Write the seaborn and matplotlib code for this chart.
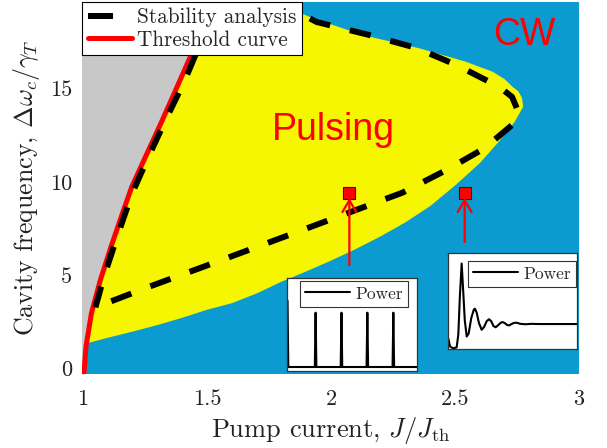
import matplotlib
matplotlib.use("Agg")
import matplotlib.pyplot as plt
import matplotlib.ticker as mticker
import numpy as np
import seaborn as sns

# Lasing threshold curve: pump current J/Jth vs cavity detuning
thr_J = [1.002, 1.004, 1.012, 1.034, 1.070, 1.113, 1.159, 1.197, 1.252, 1.314, 1.374, 1.433, 1.535, 1.545]
thr_W = [-0.3, -0.24, 1.17, 2.96, 4.74, 6.52, 8.31, 9.74, 11.34, 13.13, 14.92, 16.70, 19.63, 20.0]

# Pulsing region: lower edge (left to tip) and upper edge (tip back to the top)
lo_J = [1.015, 1.10, 1.20, 1.30, 1.40, 1.50, 1.60, 1.70, 1.80, 1.90, 2.00, 2.10, 2.20, 2.30, 2.40, 2.50, 2.60, 2.68, 2.74, 2.775]
lo_W = [1.35, 1.65, 1.98, 2.33, 2.72, 3.15, 3.50, 4.02, 4.65, 5.20, 5.78, 6.40, 7.08, 7.83, 8.70, 9.80, 11.00, 12.20, 13.20, 14.02]
up_J = [2.770, 2.755, 2.732, 2.700, 2.651, 2.544, 2.356, 2.128, 1.927, 1.880, 1.750, 1.600]
up_W = [14.50, 14.85, 15.09, 15.50, 15.90, 16.43, 17.15, 17.86, 18.76, 19.02, 19.65, 20.00]

# Stability analysis boundary (closed loop)
stab_J = [1.050, 1.066, 1.080, 1.133, 1.198, 1.258, 1.333, 1.408, 1.460, 1.505, 1.560, 1.620, 1.750,
          1.942, 2.155, 2.344, 2.505, 2.678, 2.730, 2.752, 2.757, 2.738, 2.618, 2.465, 2.288, 2.074,
          1.873, 1.672, 1.471, 1.270, 1.050]
stab_W = [3.28, 4.03, 4.74, 6.88, 9.38, 11.17, 13.31, 15.36, 17.00, 18.40, 19.30, 19.85, 19.90,
          18.56, 17.86, 17.17, 16.26, 15.09, 14.55, 13.85, 13.50, 13.13, 11.79, 10.63, 9.42, 8.36,
          7.36, 6.37, 5.38, 4.40, 3.28]

# Operating points whose time traces are shown in the insets
op_J = [2.074, 2.539]
op_W = [9.40, 9.40]

# Inset 1: regular pulse train (normalised time, normalised power)
train_t = [0.004, 0.010, 0.214, 0.220, 0.226, 0.413, 0.419, 0.425, 0.612, 0.618, 0.624, 0.812, 0.818, 0.824, 1.0]
train_p = [0.756, 0.043, 0.043, 0.627, 0.043, 0.043, 0.627, 0.043, 0.043, 0.627, 0.043, 0.043, 0.627, 0.043, 0.043]

# Inset 2: relaxation oscillations settling to CW output
relax_t = [0.002, 0.016, 0.041, 0.067, 0.080, 0.092, 0.106, 0.118, 0.130, 0.145, 0.160, 0.180, 0.200,
           0.209, 0.222, 0.240, 0.261, 0.280, 0.300, 0.318, 0.335, 0.352, 0.370, 0.390, 0.410, 0.424,
           0.440, 0.458, 0.475, 0.495, 0.512, 0.532, 0.560, 0.600, 0.650, 0.700, 1.000]
relax_p = [0.110, 0.025, 0.007, 0.017, 0.150, 0.550, 0.890, 0.600, 0.300, 0.130, 0.160, 0.320, 0.410,
           0.420, 0.380, 0.270, 0.200, 0.230, 0.290, 0.310, 0.290, 0.240, 0.226, 0.250, 0.275, 0.280,
           0.270, 0.250, 0.246, 0.262, 0.272, 0.274, 0.262, 0.258, 0.262, 0.260, 0.260]

x_ticks = [1, 1.5, 2, 2.5, 3]
y_ticks = [0, 5, 10, 15]

C_BLUE = "#0B9BD0"
C_GRAY = "#C8C8C8"
C_YELLOW = "#F6F600"
C_RED = "#FF0000"

sns.set_theme(style="white")
plt.rcParams.update({
    "font.family": ["cmr10", "DejaVu Serif"],
    "mathtext.fontset": "cm",
    "axes.formatter.use_mathtext": True,
    "axes.unicode_minus": False,
})

W, H = 607, 448
fig = plt.figure(figsize=(W / 100, H / 100), dpi=100)
fig.patch.set_facecolor("white")
ax = fig.add_axes([82 / W, 74 / H, 497 / W, 372 / H])
ax.set_facecolor(C_BLUE)

# Below-threshold region (grey) and pulsing region (yellow)
thr_J_a = np.array(thr_J)
thr_W_a = np.array(thr_W)
ax.fill_betweenx(thr_W_a, 0.9, thr_J_a, color=C_GRAY, lw=0, zorder=1)
keep = thr_W_a >= lo_W[0]
poly_J = list(lo_J) + list(up_J) + list(thr_J_a[keep][::-1])
poly_W = list(lo_W) + list(up_W) + list(thr_W_a[keep][::-1])
ax.fill(poly_J, poly_W, color=C_YELLOW, lw=0, zorder=1)

# Threshold curve and stability boundary
sns.lineplot(x=thr_J, y=thr_W, sort=False, estimator=None, color=C_RED, lw=3.6, ax=ax,
             label="Threshold curve", zorder=3)
h_thr = ax.lines[-1]
sns.lineplot(x=stab_J, y=stab_W, sort=False, estimator=None, color="black", lw=4.3, ax=ax,
             label="Stability analysis", zorder=4)
h_stab = ax.lines[-1]
h_stab.set_linestyle((0, (3.6, 3.4)))
h_stab.set_dash_capstyle("butt")

# Operating points with arrows from the insets
sns.scatterplot(x=op_J, y=op_W, marker="s", s=70, color=C_RED, edgecolor="#6a0000",
                linewidth=0.8, ax=ax, zorder=6, legend=False)
for j, w, tail in zip(op_J, op_W, [5.54, 6.78]):
    ax.annotate("", xy=(j, w - 0.27), xytext=(j, tail),
                arrowprops=dict(arrowstyle="->,head_length=0.85,head_width=0.5", color=C_RED,
                                lw=1.6, mutation_scale=10, shrinkA=0, shrinkB=0), zorder=6)

ax.text(2.779, 17.33, "CW", color=C_RED, fontsize=27, family="Liberation Sans",
        ha="center", va="baseline", zorder=7)
ax.text(2.008, 12.24, "Pulsing", color=C_RED, fontsize=27, family="Liberation Sans",
        ha="center", va="baseline", zorder=7)

ax.set_xlim(0.996, 3.0)
ax.set_ylim(-0.29, 19.63)
ax.set_xticks(x_ticks)
ax.set_yticks(y_ticks)
fmt = mticker.FuncFormatter(lambda v, p: f"{v:g}")
ax.xaxis.set_major_formatter(fmt)
ax.yaxis.set_major_formatter(fmt)
ax.tick_params(axis="both", length=0, labelsize=16, colors="#222222")
ax.tick_params(axis="x", pad=11)
ax.tick_params(axis="y", pad=7)
for s in ax.spines.values():
    s.set_visible(False)
ax.set_xlabel(r"Pump current, $J/J_{\rm th}$", fontsize=19, color="#222222", labelpad=4.5)
ax.set_ylabel(r"Cavity frequency, $\Delta\omega_c/\gamma_T$", fontsize=18.6, color="#222222", labelpad=6)

leg = ax.legend(handles=[h_stab, h_thr], labels=["Stability analysis", "Threshold curve"],
                loc="upper left", bbox_to_anchor=(0, 1), borderaxespad=0, fontsize=15.3,
                frameon=True, fancybox=False, framealpha=1, edgecolor="black",
                handlelength=2.1, handletextpad=0.2, borderpad=0.27, labelspacing=0.13)
leg.get_frame().set_linewidth(0.8)
leg.set_zorder(10)
leg.legend_handles[0].set_linestyle((0, (4.2, 4.0)))


def style_inset(a, anchor):
    a.set_facecolor("white")
    a.set(xlim=(0, 1), ylim=(0, 1), xticks=[], yticks=[], xlabel="", ylabel="")
    for s in a.spines.values():
        s.set_visible(True)
        s.set_color("#333333")
        s.set_linewidth(0.9)
    lg = a.legend(loc="upper right", bbox_to_anchor=anchor, borderaxespad=0, fontsize=12.5,
                  frameon=True, fancybox=False, framealpha=1, edgecolor="#333333",
                  handlelength=2.6, handletextpad=0.3, borderpad=0.3)
    lg.get_frame().set_linewidth(0.8)


ax_a = fig.add_axes([287 / W, 77 / H, 130 / W, 93 / H])
sns.lineplot(x=train_t, y=train_p, sort=False, estimator=None, color="black", lw=1.5,
             ax=ax_a, label="Power")
style_inset(ax_a, (0.931, 0.968))

ax_b = fig.add_axes([448 / W, 99 / H, 129 / W, 96 / H])
sns.lineplot(x=relax_t, y=relax_p, sort=False, estimator=None, color="black", lw=1.5,
             ax=ax_b, label="Power")
style_inset(ax_b, (0.992, 0.917))

fig.savefig("out.png", dpi=100)
